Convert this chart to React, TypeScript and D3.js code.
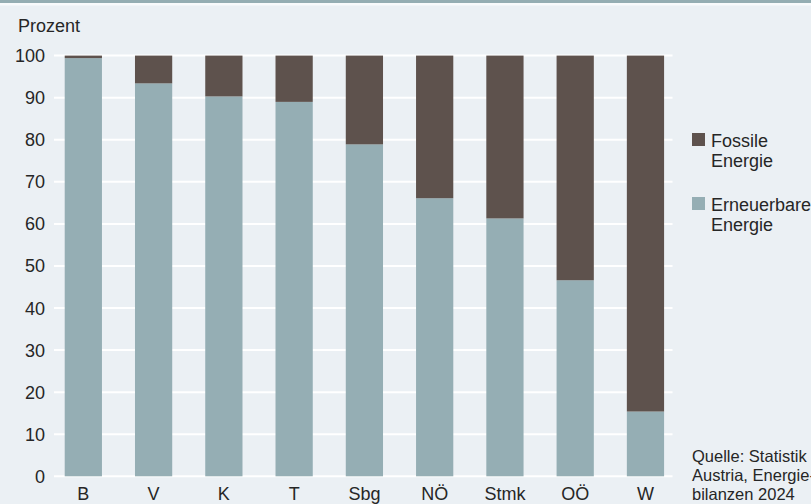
import React from "react";
import * as d3 from "d3";

const categories = ["B", "V", "K", "T", "Sbg", "NÖ", "Stmk", "OÖ", "W"];
const renewable = [99.4, 93.4, 90.3, 89.0, 78.9, 66.1, 61.3, 46.6, 15.4];
const fossil = renewable.map((r) => 100 - r);
const yTicks = [0, 10, 20, 30, 40, 50, 60, 70, 80, 90, 100];
const seriesNames = ["Fossile Energie", "Erneuerbare Energie"];
const sourceLines = ["Quelle: Statistik", "Austria, Energie-", "bilanzen 2024"];

const W = 811;
const H = 504;
const BG = "#ebf0f4";
const C_REN = "#95aeb4";
const C_FOS = "#5e524d";
const TEXT = "#262626";
const FONT = "'Liberation Sans', Arial, sans-serif";

export default function App() {
  const x = d3
    .scaleBand<string>()
    .domain(categories)
    .range([48.2, 680.6])
    .paddingInner(0.47)
    .paddingOuter(0.235);
  const y = d3.scaleLinear().domain([0, 100]).range([476.3, 55.6]);

  const stack = d3
    .stack<any>()
    .keys(["ren", "fos"])(categories.map((c, i) => ({ cat: c, ren: renewable[i], fos: fossil[i] })));
  const colors: Record<string, string> = { ren: C_REN, fos: C_FOS };

  return (
    <svg
      width={W}
      height={H}
      style={{ position: "absolute", left: 0, top: 0, fontFamily: FONT }}
    >
      <rect x={0} y={0} width={W} height={H} fill={BG} />
      <rect x={0} y={0} width={W} height={3} fill="#94adb2" />
      <rect x={0} y={3} width={W} height={2.5} fill="#f8fafb" />

      <text x={18} y={32} fontSize={18} fill={TEXT}>
        Prozent
      </text>

      {yTicks.map((t) => (
        <g key={t}>
          <line x1={54} x2={672.5} y1={y(t)} y2={y(t)} stroke="#ffffff" strokeWidth={2} />
          <text
            x={45}
            y={y(t)}
            dy="0.36em"
            textAnchor="end"
            fontSize={18}
            fill={TEXT}
          >
            {t}
          </text>
        </g>
      ))}

      {stack.map((layer) => (
        <g key={layer.key} fill={colors[layer.key]}>
          {layer.map((d, i) => (
            <rect
              key={i}
              x={x(categories[i])}
              width={x.bandwidth()}
              y={y(d[1])}
              height={y(d[0]) - y(d[1])}
            />
          ))}
        </g>
      ))}

      {categories.map((c) => (
        <text
          key={c}
          x={(x(c) as number) + x.bandwidth() / 2}
          y={500}
          textAnchor="middle"
          fontSize={18}
          fill={TEXT}
        >
          {c}
        </text>
      ))}

      {[
        { name: seriesNames[0], color: C_FOS, top: 133 },
        { name: seriesNames[1], color: C_REN, top: 197 },
      ].map((l) => (
        <g key={l.name}>
          <rect x={692} y={l.top} width={13} height={13} fill={l.color} />
          {l.name.split(" ").map((w, i) => (
            <text key={i} x={711} y={l.top + 13.5 + i * 20.5} fontSize={18} fill={TEXT}>
              {w}
            </text>
          ))}
        </g>
      ))}

      {sourceLines.map((s, i) => (
        <text key={i} x={692} y={462 + i * 19} fontSize={16.5} fill={TEXT}>
          {s}
        </text>
      ))}
    </svg>
  );
}
